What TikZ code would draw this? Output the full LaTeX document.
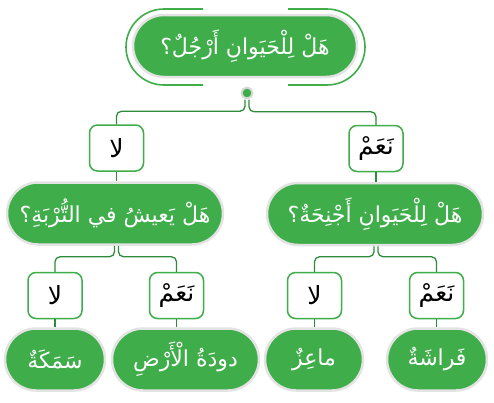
\documentclass[tikz,border=0pt]{standalone}
\usepackage{fontspec}
\usepackage{xcolor}
\usetikzlibrary{positioning}
\newfontfamily\arabicfont[Script=Arabic]{DejaVu Sans}
\TeXXeTstate=1
\definecolor{LeafGreen}{HTML}{3FAD4A}
\definecolor{StemGreen}{HTML}{2E8B3B}
\newcommand{\artext}[1]{{\arabicfont\beginR #1\endR}}

\begin{document}
\begin{tikzpicture}[
  x=1pt, y=-1pt,
  question/.style={
    rounded corners=31pt,
    fill=LeafGreen,
    draw=black!11,
    line width=2.5pt,
    text=white,
    minimum height=62pt,
    minimum width=#1,
    inner sep=0pt,
    font=\fontsize{22}{24}\selectfont
  },
  answer/.style={
    rounded corners=8pt,
    draw=LeafGreen,
    line width=1.5pt,
    fill=white,
    minimum width=54pt,
    minimum height=46pt,
    inner sep=0pt,
    font=\fontsize{25}{27}\selectfont
  },
  link/.style={draw=StemGreen, line width=1.3pt, rounded corners=5pt},
  ring/.style={draw=LeafGreen, line width=1.6pt}
]
  \useasboundingbox (0,0) rectangle (494,402);

  % top question
  \node[question=224pt] (legs) at (245,46) {\artext{هَلْ لِلْحَيَوانِ أَرْجُلٌ؟}};
  \draw[ring] (203,9) -- (164,9) arc[start angle=270, end angle=90, radius=38] -- (203,85);
  \draw[ring] (288,9) -- (327,9) arc[start angle=270, end angle=450, radius=38] -- (288,85);
  \node[circle, fill=LeafGreen, draw=black!15, line width=2pt, minimum size=11pt, inner sep=0pt] (dot) at (247,93) {};

  % first answers
  \node[answer] (no1) at (116.5,148) {\artext{لا}};
  \node[answer] (yes1) at (376,148.5) {\artext{نَعَمْ}};

  % second questions
  \node[question=216pt] (soil) at (115,213.5) {\artext{هَلْ يَعيشُ في التُّرْبَةِ؟}};
  \node[question=216pt] (wings) at (375,214) {\artext{هَلْ لِلْحَيَوانِ أَجْنِحَةٌ؟}};

  % second answers
  \node[answer] (no2) at (55,295.5) {\artext{لا}};
  \node[answer] (yes2) at (176.5,295.5) {\artext{نَعَمْ}};
  \node[answer] (no3) at (314.5,295.5) {\artext{لا}};
  \node[answer] (yes3) at (436.5,295.5) {\artext{نَعَمْ}};

  % animals
  \node[question=100pt] (fish) at (55,359.5) {\artext{سَمَكَةٌ}};
  \node[question=147pt] (worm) at (185.5,359.5) {\artext{دودَةُ الْأَرْضِ}};
  \node[question=98pt] (goat) at (314,359.5) {\artext{ماعِزٌ}};
  \node[question=100pt] (moth) at (437,359.5) {\artext{فَراشَةٌ}};

  % connectors
  \draw[link] ([xshift=-2pt]dot.south) |- ([yshift=13pt]no1.north) -- (no1.north);
  \draw[link] ([xshift=2pt]dot.south) |- ([yshift=13pt]yes1.north) -- (yes1.north);
  \draw[link] (no1.south) -- (no1.south |- soil.north);
  \draw[link] (yes1.south) -- (yes1.south |- wings.north);

  \coordinate (s1) at (no1 |- soil.south);
  \coordinate (s2) at (yes1 |- wings.south);
  \draw[link] ([xshift=-2pt]s1) |- ([yshift=15pt]no2.north) -- (no2.north);
  \draw[link] ([xshift=2pt]s1) |- ([yshift=15pt]yes2.north) -- (yes2.north);
  \draw[link] ([xshift=-2pt]s2) |- ([yshift=15pt]no3.north) -- (no3.north);
  \draw[link] ([xshift=2pt]s2) |- ([yshift=15pt]yes3.north) -- (yes3.north);

  \draw[link] (no2.south) -- (no2.south |- fish.north);
  \draw[link] (yes2.south) -- (yes2.south |- worm.north);
  \draw[link] (no3.south) -- (no3.south |- goat.north);
  \draw[link] (yes3.south) -- (yes3.south |- moth.north);
\end{tikzpicture}
\end{document}
